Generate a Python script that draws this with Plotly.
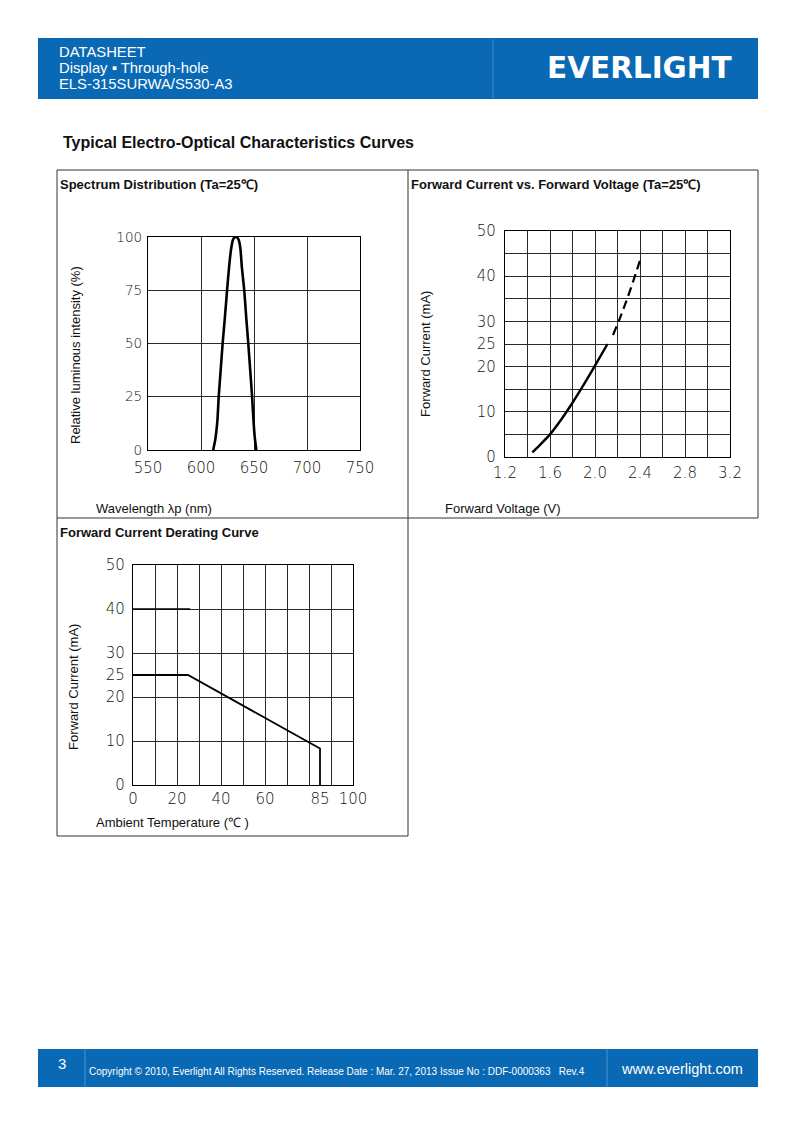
import plotly.graph_objects as go

W, H = 793, 1123

# ---------------- data ----------------
spec_wl = [611.5, 613.5, 615.5, 616.7, 618.5, 620.4, 622.5, 624.6, 626.5, 628.3, 630.0, 631.5, 633.0,
           634.5, 636.0, 637.3, 638.5, 640.8, 642.7, 644.6, 646.5, 648.2, 649.5, 650.7, 652.2]
spec_rel = [0, 5, 14, 25, 37, 50, 62, 75, 86, 94, 98.5, 99.8, 100,
            99.6, 98, 94, 86, 75, 62, 50, 37, 25, 14, 6, 0]

fv_v_solid = [1.443, 1.50, 1.60, 1.70, 1.80, 1.90, 2.00, 2.111]
fv_i_solid = [1.0, 2.4, 5.0, 8.3, 12.0, 16.0, 20.2, 25.0]
fv_v_dash = [2.16, 2.22, 2.28, 2.34, 2.404]
fv_i_dash = [27.0, 30.6, 34.6, 38.9, 43.8]

der_t = [0, 25, 85, 85]
der_i = [25, 25, 8.3, 0]
der_ref_t = [0, 26]
der_ref_i = [40, 40]

spec_xticks = [550, 600, 650, 700, 750]
spec_yticks = [0, 25, 50, 75, 100]
fv_xticks = [1.2, 1.6, 2.0, 2.4, 2.8, 3.2]
fv_xlabels = ["1.2", "1.6", "2.0", "2.4", "2.8", "3.2"]
fv_yticks = [0, 10, 20, 25, 30, 40, 50]
der_xticks = [0, 20, 40, 60, 85, 100]
der_yticks = [0, 10, 20, 25, 30, 40, 50]

# ---------------- helpers ----------------
def px(x):
    return x / W

def py(y):
    return 1 - y / H

BLUE = "#0A69B4"
INK = "#111111"
GRID = "#2a2a2a"
TICKFONT = dict(family="DejaVu Sans", size=15, color="#111111", weight=200)
TICKFONT_S = dict(family="DejaVu Sans", size=13.5, color="#111111", weight=200)

fig = go.Figure()

# spectrum
fig.add_trace(go.Scatter(x=spec_wl, y=spec_rel, mode="lines", xaxis="x", yaxis="y",
                         line=dict(color="black", width=2.6, shape="spline", smoothing=0.5),
                         showlegend=False, hoverinfo="skip"))
# forward voltage
fig.add_trace(go.Scatter(x=fv_v_solid, y=fv_i_solid, mode="lines", xaxis="x2", yaxis="y2",
                         line=dict(color="black", width=2.4, shape="spline", smoothing=0.8),
                         showlegend=False, hoverinfo="skip"))
fig.add_trace(go.Scatter(x=fv_v_dash, y=fv_i_dash, mode="lines", xaxis="x2", yaxis="y2",
                         line=dict(color="black", width=2.2, dash="9px,5px", shape="spline", smoothing=0.8),
                         showlegend=False, hoverinfo="skip"))
# derating
fig.add_trace(go.Scatter(x=der_ref_t, y=der_ref_i, mode="lines", xaxis="x3", yaxis="y3",
                         line=dict(color="black", width=1.6),
                         showlegend=False, hoverinfo="skip"))
fig.add_trace(go.Scatter(x=der_t, y=der_i, mode="lines", xaxis="x3", yaxis="y3",
                         line=dict(color="black", width=1.8),
                         showlegend=False, hoverinfo="skip"))

def axis(domain, rng, anchor, tickvals, ticktext=None, grid=True, minor=None, standoff=6, font=TICKFONT):
    d = dict(domain=domain, range=rng, anchor=anchor, tickmode="array", tickvals=tickvals,
             showline=True, mirror=True, linecolor="black", linewidth=1.3,
             showgrid=grid, gridcolor=GRID, gridwidth=1, ticks="", zeroline=False,
             tickfont=font, fixedrange=True, ticklabelstandoff=standoff, automargin=False)
    if ticktext is not None:
        d["ticktext"] = ticktext
    if minor is not None:
        d["minor"] = minor
    return d

fig.update_layout(
    width=W, height=H, autosize=False,
    margin=dict(l=0, r=0, t=0, b=0, pad=0, autoexpand=False),
    paper_bgcolor="white", plot_bgcolor="white",
    xaxis=axis([px(148), px(360)], [550, 750], "y", spec_xticks, grid=True, standoff=4),
    yaxis=axis([py(450), py(237)], [0, 100], "x", spec_yticks, grid=True, standoff=2, font=TICKFONT_S),
    xaxis2=axis([px(505), px(730)], [1.2, 3.2], "y2", fv_xticks, fv_xlabels, grid=True,
                minor=dict(tick0=1.2, dtick=0.2, showgrid=True, gridcolor=GRID, gridwidth=1, ticks=""),
                standoff=2),
    yaxis2=axis([py(457), py(231)], [0, 50], "x2", fv_yticks, grid=True,
                minor=dict(tick0=0, dtick=5, showgrid=True, gridcolor=GRID, gridwidth=1, ticks=""),
                standoff=5),
    xaxis3=axis([px(133), px(353)], [0, 100], "y3", der_xticks, grid=False,
                minor=dict(tick0=0, dtick=10, showgrid=True, gridcolor=GRID, gridwidth=1, ticks=""),
                standoff=0),
    yaxis3=axis([py(785), py(565)], [0, 50], "x3", der_yticks, grid=False,
                minor=dict(tick0=0, dtick=10, showgrid=True, gridcolor=GRID, gridwidth=1, ticks=""),
                standoff=4),
)

shapes = []
# header and footer bands
shapes.append(dict(type="rect", xref="paper", yref="paper", x0=px(38), x1=px(758), y0=py(99), y1=py(38),
                   fillcolor=BLUE, line=dict(width=0), layer="below"))
shapes.append(dict(type="line", xref="paper", yref="paper", x0=px(493), x1=px(493), y0=py(98), y1=py(39),
                   line=dict(color="#3f8ccb", width=1)))
shapes.append(dict(type="rect", xref="paper", yref="paper", x0=px(38), x1=px(758), y0=py(1087), y1=py(1049),
                   fillcolor=BLUE, line=dict(width=0), layer="below"))
for xv in (85, 607):
    shapes.append(dict(type="line", xref="paper", yref="paper", x0=px(xv), x1=px(xv), y0=py(1087), y1=py(1049),
                       line=dict(color="#4a93cf", width=1)))

# panel frames
frame = dict(color="#333333", width=1)
def hline(x0, x1, y):
    shapes.append(dict(type="line", xref="paper", yref="paper", x0=px(x0), x1=px(x1), y0=py(y), y1=py(y), line=frame))
def vline(x, y0, y1):
    shapes.append(dict(type="line", xref="paper", yref="paper", x0=px(x), x1=px(x), y0=py(y0), y1=py(y1), line=frame))
hline(57, 758, 170)
hline(57, 758, 518)
hline(57, 408, 836)
vline(57, 170, 836)
vline(408, 170, 836)
vline(758, 170, 518)
fig.update_layout(shapes=shapes)

ann = []
def text(x, y, s, size=13, bold=False, color=INK, family="Liberation Sans, Arial", xanchor="left",
         yanchor="middle", angle=0):
    ann.append(dict(xref="paper", yref="paper", x=px(x), y=py(y), text=("<b>%s</b>" % s) if bold else s,
                    showarrow=False, xanchor=xanchor, yanchor=yanchor, textangle=angle,
                    font=dict(family=family, size=size, color=color)))

# header
text(57, 52, "DATASHEET", size=14.8, color="white")
text(57, 68, "Display ▪ Through-hole", size=14.8, color="white")
text(57, 84, "ELS-315SURWA/S530-A3", size=14.8, color="white")
text(639, 68, "EVERLIGHT", size=29.5, bold=True, color="white", family="DejaVu Sans", xanchor="center")

# page title
text(61, 142, "Typical Electro-Optical Characteristics Curves", size=16, bold=True)

# panel titles
text(58, 184, "Spectrum Distribution (Ta=25℃)", size=13, bold=True)
text(409, 184, "Forward Current vs. Forward Voltage (Ta=25℃)", size=13, bold=True)
text(58, 532, "Forward Current Derating Curve", size=13, bold=True)

# axis titles
text(75, 355, "Relative luminous intensity (%)", angle=-90, xanchor="center")
text(94, 508, "Wavelength λp (nm)")
text(426, 354, "Forward Current (mA)", angle=-90, xanchor="center")
text(443, 508, "Forward Voltage (V)")
text(73, 687, "Forward Current (mA)", angle=-90, xanchor="center")
text(94, 822, "Ambient Temperature (℃ )")

# footer
text(62, 1063, "3", size=15, color="white", xanchor="center")
text(87, 1071, "Copyright © 2010, Everlight All Rights Reserved. Release Date : Mar. 27, 2013 Issue No : DDF-0000363   Rev.4",
     size=10, color="white")
text(682, 1069, "www.everlight.com", size=14.5, color="white", xanchor="center")

fig.update_layout(annotations=ann)

fig.write_html("out.html", config={"displayModeBar": False},
               post_script="document.body.style.margin='0';")
